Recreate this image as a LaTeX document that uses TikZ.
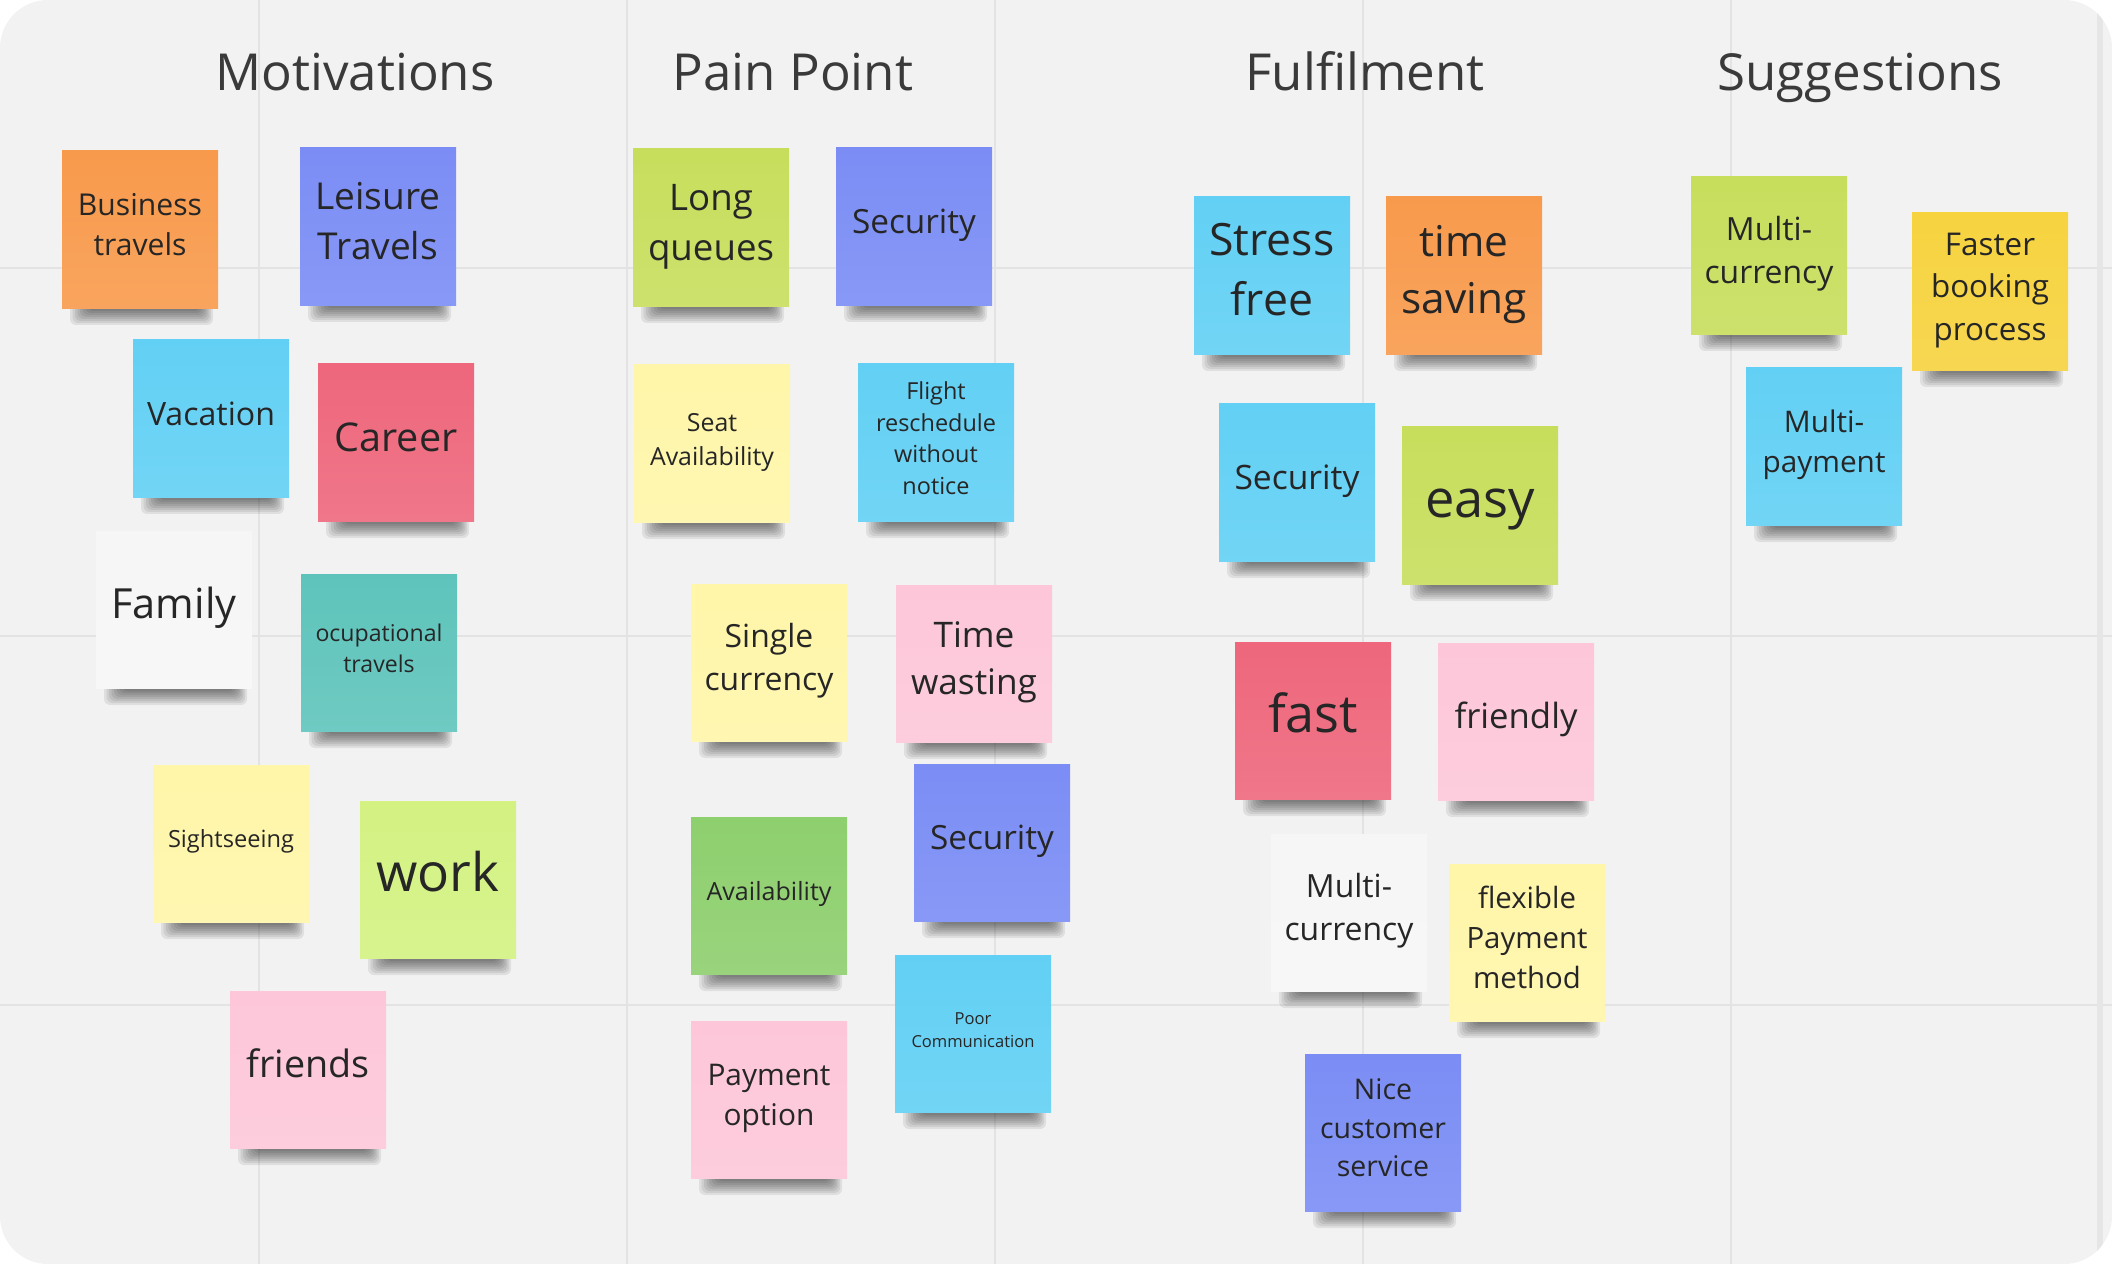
\documentclass[tikz,border=0pt]{standalone}
\usepackage{fontspec}
\setmainfont{Open Sans}
\usepackage{graphicx}

% board colours
\definecolor{board}{HTML}{F2F2F2}
\definecolor{gridc}{HTML}{E3E3E3}
\definecolor{edgec}{HTML}{E6E6E6}
\definecolor{ink}{HTML}{262626}
\definecolor{titleink}{HTML}{3A3A3A}
% sticky-note colours
\definecolor{nOrange}{HTML}{F89A4C}
\definecolor{nViolet}{HTML}{7B8DF5}
\definecolor{nCyan}{HTML}{62D0F4}
\definecolor{nRed}{HTML}{EE677C}
\definecolor{nWhite}{HTML}{F6F6F7}
\definecolor{nTeal}{HTML}{5EC4BB}
\definecolor{nPale}{HTML}{FFF6A9}
\definecolor{nLime}{HTML}{D3F282}
\definecolor{nPink}{HTML}{FDC7D9}
\definecolor{nOlive}{HTML}{C7DE5C}
\definecolor{nGreen}{HTML}{8ECF6E}
\definecolor{nYellow}{HTML}{F6D33F}

\newdimen\pxu \pxu=0.01cm

\tikzset{
  notebox/.style={anchor=north west, minimum width=1.56cm, minimum height=1.57cm,
                  inner sep=0pt, outer sep=0pt},
  notetext/.style={inner sep=0pt, text=ink, font=\fontsize{10pt}{13.5pt}\selectfont},
  heading/.style={anchor=base, inner sep=0pt, text=titleink,
                  font=\fontsize{14.5pt}{17pt}\selectfont},
  gridline/.style={draw=gridc, line width=0.02cm},
  shadowpiece/.style={fill=black, fill opacity=0.075, rounded corners=0.06cm},
}

% \sticky{name}{left}{top}{colour}{text width in px}{text}
\newcommand\sticky[6]{%
  \foreach \i in {0,...,7}{%
    \fill[shadowpiece] ({#2+8+2.5*\i},{#3+150}) rectangle ({#2+151-1.8*\i},{#3+174-2*\i});}
  \node[notebox, top color=#4, bottom color=#4!90!white] (#1) at (#2,#3) {};
  \node[notetext] (#1-t) at ({#2+78},{#3+76.5})
    {\resizebox{#5\pxu}{!}{\begin{tabular}{@{}c@{}}#6\end{tabular}}};
}

\begin{document}
\begin{tikzpicture}[x=0.01cm, y=-0.01cm]
  \useasboundingbox (0,0) rectangle (2112,1264);
  \fill[white] (0,0) rectangle (2112,1264);
  \fill[board, rounded corners=0.48cm] (0,0) rectangle (2112,1264);

  % board grid
  \begin{scope}
    \clip[rounded corners=0.48cm] (0,0) rectangle (2112,1264);
    \foreach \gx in {259,627,995,1363,1731}{\draw[gridline] (\gx,0) -- (\gx,1264);}
    \foreach \gy in {268,636,1005}{\draw[gridline] (0,\gy) -- (2112,\gy);}
    \draw[edgec, line width=0.06cm] (2100,0) -- (2100,1264);
  \end{scope}

  % column headings
  \node[heading] (hMot)  at (355,91)  {Motivations};
  \node[heading] (hPain) at (793,91)  {Pain Point};
  \node[heading] (hFul)  at (1365,91) {Fulfilment};
  \node[heading] (hSug)  at (1860,91) {Suggestions};

  % Motivations
  \sticky{biz}{62}{151}{nOrange}{124}{Business\\travels}
  \sticky{leisure}{300}{148}{nViolet}{125}{Leisure\\Travels}
  \sticky{vacation}{133}{340}{nCyan}{128}{Vacation}
  \sticky{career}{318}{364}{nRed}{123}{Career}
  \sticky{family}{96}{531}{nWhite}{125}{Family}
  \sticky{occup}{301}{574}{nTeal}{127}{ocupational\\travels}
  \sticky{sight}{153}{765}{nPale}{126}{Sightseeing}
  \sticky{work}{360}{801}{nLime}{123}{work}
  \sticky{friends}{230}{991}{nPink}{123}{friends}

  % Pain Point
  \sticky{queues}{633}{149}{nOlive}{126}{Long\\queues}
  \sticky{secA}{836}{148}{nViolet}{124}{Security}
  \sticky{seat}{634}{365}{nPale}{124}{Seat\\Availability}
  \sticky{flight}{858}{364}{nCyan}{120}{Flight\\reschedule\\without\\notice}
  \sticky{single}{691}{584}{nPale}{129}{Single\\currency}
  \sticky{timew}{896}{585}{nPink}{126}{Time\\wasting}
  \sticky{secB}{914}{764}{nViolet}{124}{Security}
  \sticky{avail}{691}{817}{nGreen}{125}{Availability}
  \sticky{poor}{895}{955}{nCyan}{123}{Poor\\Communication}
  \sticky{payopt}{691}{1021}{nPink}{123}{Payment\\option}

  % Fulfilment
  \sticky{stress}{1194}{197}{nCyan}{125}{Stress\\free}
  \sticky{timesav}{1386}{197}{nOrange}{125}{time\\saving}
  \sticky{secC}{1219}{404}{nCyan}{125}{Security}
  \sticky{easy}{1402}{427}{nOlive}{110}{easy}
  \sticky{fast}{1235}{642}{nRed}{90}{fast}
  \sticky{friendly}{1438}{643}{nPink}{123}{friendly}
  \sticky{multicurA}{1271}{834}{nWhite}{129}{Multi-\\currency}
  \sticky{flexpay}{1449}{864}{nPale}{121}{flexible\\Payment\\method}
  \sticky{nice}{1305}{1054}{nViolet}{126}{Nice\\customer\\service}

  % Suggestions
  \sticky{multicurB}{1691}{177}{nOlive}{129}{Multi-\\currency}
  \sticky{faster}{1912}{213}{nYellow}{118}{Faster\\booking\\process}
  \sticky{multipay}{1746}{368}{nCyan}{123}{Multi-\\payment}
\end{tikzpicture}
\end{document}
